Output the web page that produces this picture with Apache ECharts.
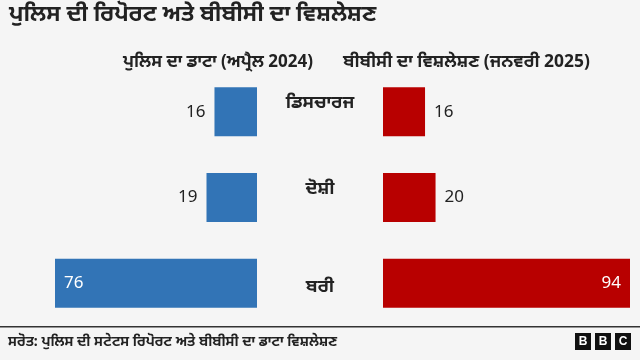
<!DOCTYPE html>
<html><head><meta charset="utf-8">
<script src="https://cdn.jsdelivr.net/npm/echarts@6/dist/echarts.min.js"></script>
<style>html,body{margin:0;padding:0;background:#f5f5f5}#c{width:640px;height:360px}</style>
</head><body><div id="c"></div>
<script>
const categories = ['ਡਿਸਚਾਰਜ', 'ਦੋਸ਼ੀ', 'ਬਰੀ'];
const policeValues = [16, 19, 76];
const bbcValues = [16, 20, 94];
const title = 'ਪੁਲਿਸ ਦੀ ਰਿਪੋਰਟ ਅਤੇ ਬੀਬੀਸੀ ਦਾ ਵਿਸ਼ਲੇਸ਼ਣ';
const leftHeader = 'ਪੁਲਿਸ ਦਾ ਡਾਟਾ (ਅਪ੍ਰੈਲ 2024)';
const rightHeader = 'ਬੀਬੀਸੀ ਦਾ ਵਿਸ਼ਲੇਸ਼ਣ (ਜਨਵਰੀ 2025)';
const source = 'ਸਰੋਤ: ਪੁਲਿਸ ਦੀ ਸਟੇਟਸ ਰਿਪੋਰਟ ਅਤੇ ਬੀਬੀਸੀ ਦਾ ਡਾਟਾ ਵਿਸ਼ਲੇਸ਼ਣ';

const FONT = '"Noto Sans", "Noto Sans Gurmukhi", sans-serif';
const chart = echarts.init(document.getElementById('c'));

const leftData = policeValues.map(v => ({
  value: v,
  label: v >= 50 ? {position: 'insideLeft', color: '#fff'} : {position: 'left', color: '#222'}
}));
const rightData = bbcValues.map(v => ({
  value: v,
  label: v >= 50 ? {position: 'insideRight', color: '#fff'} : {position: 'right', color: '#222'}
}));

const catStyle = {fontFamily: FONT, fontSize: 18, fontWeight: 'bold', color: '#222'};

chart.setOption({
  backgroundColor: '#f5f5f5',
  animation: false,
  textStyle: {fontFamily: FONT},
  grid: [
    {left: 55, width: 202, top: 69, bottom: 34},
    {left: 383, width: 247, top: 69, bottom: 34}
  ],
  xAxis: [
    {gridIndex: 0, type: 'value', min: 0, max: 76, inverse: true, show: false},
    {gridIndex: 1, type: 'value', min: 0, max: 94, show: false}
  ],
  yAxis: [
    {gridIndex: 0, type: 'category', data: categories, inverse: true, show: false},
    {gridIndex: 1, type: 'category', data: categories, inverse: true,
     axisLine: {show: false}, axisTick: {show: false},
     axisLabel: {show: true, margin: 63, align: 'center',
       formatter: (v, i) => i < 2 ? '{up|' + v + '}' : '{down|' + v + '}',
       rich: {
         up: Object.assign({padding: [0, 0, 18, 0]}, catStyle),
         down: Object.assign({padding: [8, 0, 0, 0]}, catStyle)
       }}}
  ],
  series: [
    {type: 'bar', xAxisIndex: 0, yAxisIndex: 0, barWidth: 49, data: leftData,
     itemStyle: {color: '#3274b6'},
     label: {show: true, fontFamily: FONT, fontSize: 17, distance: 9}},
    {type: 'bar', xAxisIndex: 1, yAxisIndex: 1, barWidth: 49, data: rightData,
     itemStyle: {color: '#b80000'},
     label: {show: true, fontFamily: FONT, fontSize: 17, distance: 9}}
  ],
  graphic: [
    {type: 'text', left: 9, top: 3, style: {text: title, font: 'bold 22.5px ' + FONT, fill: '#222'}},
    {type: 'text', style: {x: 313, y: 62, text: leftHeader, font: 'bold 17px ' + FONT, fill: '#222', align: 'right', verticalAlign: 'middle'}},
    {type: 'text', style: {x: 343, y: 62, text: rightHeader, font: 'bold 17.4px ' + FONT, fill: '#222', align: 'left', verticalAlign: 'middle'}},
    {type: 'rect', shape: {x: 0, y: 326, width: 640, height: 1.5}, style: {fill: '#333'}},
    {type: 'text', style: {x: 8, y: 342, text: source, font: 'bold 14px ' + FONT, fill: '#222', verticalAlign: 'middle'}},
    {type: 'group', left: 575, top: 333, children: [
      {type: 'rect', shape: {x: 0, y: 0, width: 16, height: 17}, style: {fill: '#111'}},
      {type: 'text', style: {x: 8, y: 9, text: 'B', font: 'bold 12px Arial, sans-serif', fill: '#fff', align: 'center', verticalAlign: 'middle'}},
      {type: 'rect', shape: {x: 20, y: 0, width: 16, height: 17}, style: {fill: '#111'}},
      {type: 'text', style: {x: 28, y: 9, text: 'B', font: 'bold 12px Arial, sans-serif', fill: '#fff', align: 'center', verticalAlign: 'middle'}},
      {type: 'rect', shape: {x: 40, y: 0, width: 16, height: 17}, style: {fill: '#111'}},
      {type: 'text', style: {x: 48, y: 9, text: 'C', font: 'bold 12px Arial, sans-serif', fill: '#fff', align: 'center', verticalAlign: 'middle'}}
    ]}
  ]
});
</script></body></html>
